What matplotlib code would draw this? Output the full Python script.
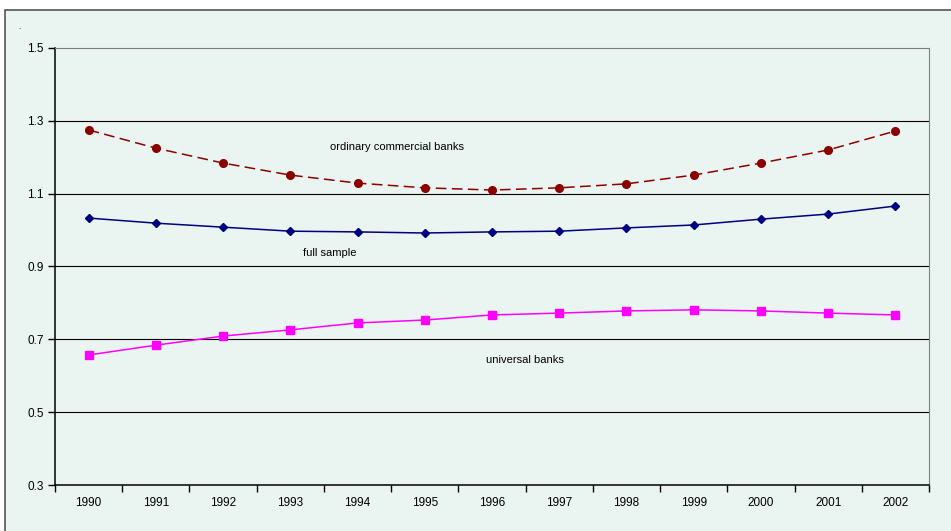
import matplotlib.pyplot as plt
import matplotlib.patches as patches
import numpy as np

plt.rcParams['font.family'] = ['Liberation Sans', 'DejaVu Sans']

years = ['1990', '1991', '1992', '1993', '1994', '1995', '1996',
         '1997', '1998', '1999', '2000', '2001', '2002']
ordinary_commercial = [1.275, 1.225, 1.184, 1.151, 1.129, 1.116, 1.110,
                       1.116, 1.127, 1.151, 1.184, 1.220, 1.272]
full_sample = [1.033, 1.019, 1.008, 0.997, 0.995, 0.992, 0.995,
               0.997, 1.006, 1.014, 1.030, 1.044, 1.066]
universal = [0.657, 0.684, 0.709, 0.726, 0.745, 0.753, 0.767,
             0.772, 0.778, 0.781, 0.778, 0.772, 0.767]
y_ticks = [0.3, 0.5, 0.7, 0.9, 1.1, 1.3, 1.5]

bg = '#eaf4f0'
W, H = 951, 531
fig = plt.figure(figsize=(W / 100, H / 100), dpi=100, facecolor='white')

# outer chart frame, kept behind the axes and running off the right/bottom edges
fig.patches.append(patches.Rectangle((5 / W, -0.05), (W + 20) / W, (H - 10) / H + 0.05,
                                     transform=fig.transFigure, facecolor=bg,
                                     edgecolor='#555555', linewidth=1.2, zorder=-5))
fig.text(18 / W, 1 - 29 / H, '.', fontsize=6)

ax = fig.add_axes([55 / W, 1 - 485 / H, (929 - 55) / W, (485 - 48) / H])
ax.set_facecolor(bg)

x = np.arange(len(years))
ax.plot(x, ordinary_commercial, color='#8b0000', linestyle=(0, (7, 3.5)), lw=1.1,
        marker='o', markersize=5.5, zorder=3)
ax.plot(x, full_sample, color='#000080', lw=1.1, marker='D', markersize=4.5, zorder=3)
ax.plot(x, universal, color='#ff00ff', lw=1.1, marker='s', markersize=5.5, zorder=3)

ax.set_xlim(-0.5, len(years) - 0.5)
ax.set_ylim(0.3, 1.5)
ax.set_yticks(y_ticks)
ax.set_yticklabels([f'{v:.1f}' for v in y_ticks])
for v in y_ticks[1:-1]:
    ax.axhline(v, color='black', lw=0.8, zorder=1)

ax.set_xticks(x)
ax.set_xticklabels(years)
ax.set_xticks(np.arange(len(years) + 1) - 0.5, minor=True)
ax.tick_params(axis='x', which='major', length=0, pad=9, labelsize=8.5)
ax.tick_params(axis='x', which='minor', length=5, width=1, direction='out')
ax.tick_params(axis='y', length=5, width=1, direction='out', labelsize=8.5, pad=3)

ax.spines['left'].set_color('black')
ax.spines['bottom'].set_color('black')
ax.spines['left'].set_linewidth(1.1)
ax.spines['bottom'].set_linewidth(1.1)
ax.spines['top'].set_color('#808080')
ax.spines['right'].set_color('#808080')

ax.text(4.59, 1.228, 'ordinary commercial banks', fontsize=8, ha='center', va='center')
ax.text(3.59, 0.937, 'full sample', fontsize=8, ha='center', va='center')
ax.text(6.49, 0.643, 'universal banks', fontsize=8, ha='center', va='center')

fig.savefig('out.png', dpi=100, facecolor='white')
